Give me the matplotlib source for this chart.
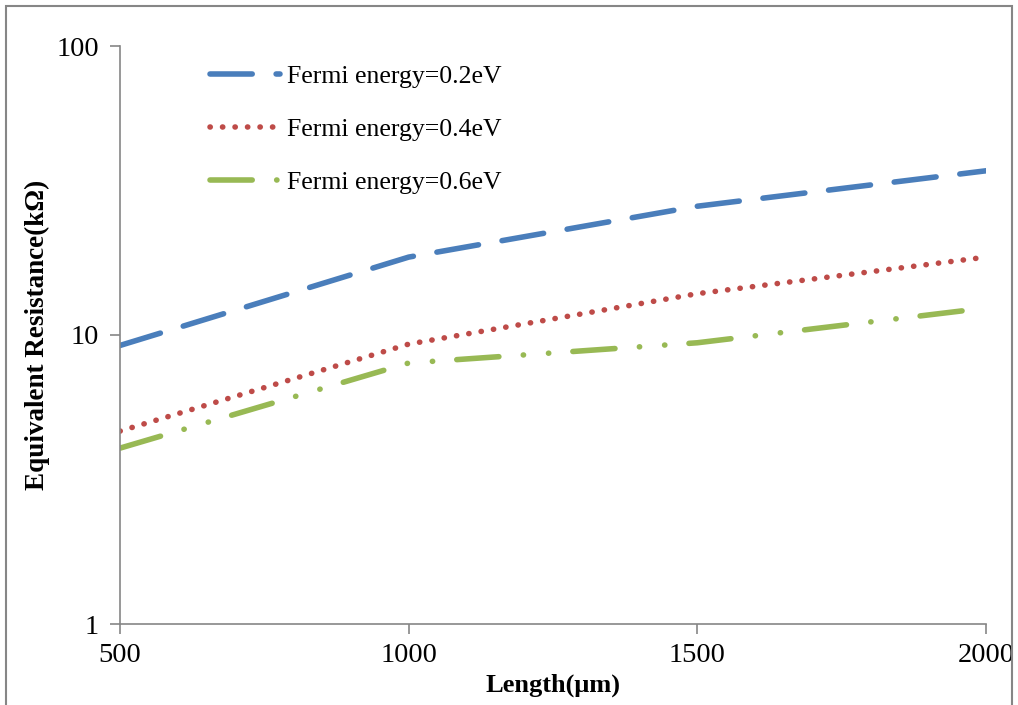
import matplotlib.pyplot as plt
from matplotlib.patches import Rectangle

length = [500, 1000, 1500, 2000]
r_02 = [9.2, 18.6, 27.9, 37.0]
r_04 = [4.65, 9.3, 13.9, 18.6]
r_06 = [4.06, 8.0, 9.4, 12.4]
labels = ["Fermi energy=0.2eV", "Fermi energy=0.4eV", "Fermi energy=0.6eV"]

plt.rcParams['font.family'] = ['Liberation Serif', 'DejaVu Serif']

fig = plt.figure(figsize=(10.18, 7.05), dpi=100)
ax = fig.add_axes([120/1018, 1-624/705, 866/1018, 578/705])

lw = 4
ax.plot(length, r_02, color='#4A7EBB', lw=lw, dash_capstyle='round',
        dashes=(7.6, 4.3), label=labels[0])
ax.plot(length, r_04, color='#BE4B48', lw=lw, dash_capstyle='round',
        dashes=(0.05, 2.2), label=labels[1])
ax.plot(length, r_06, color='#98B954', lw=lw, dash_capstyle='round',
        dashes=(7.6, 4.4, 0.05, 4.5, 0.05, 4.35), label=labels[2])

ax.set_yscale('log')
ax.set_ylim(1, 100)
ax.set_xlim(500, 2000)
ax.set_xticks([500, 1000, 1500, 2000])
ax.set_yticks([1, 10, 100])
ax.set_yticklabels(['1', '10', '100'])
ax.minorticks_off()

for s in ['top', 'right']:
    ax.spines[s].set_visible(False)
for s in ['left', 'bottom']:
    ax.spines[s].set_color('#868686')
    ax.spines[s].set_linewidth(1.2)
ax.tick_params(colors='#868686', labelcolor='black', labelsize=20.5,
               length=7, width=1.2)
ax.tick_params(axis='x', pad=7)
ax.tick_params(axis='y', pad=8)

ax.set_xlabel('Length(\u03bcm)', fontsize=19, fontweight='bold', labelpad=4)
ax.set_ylabel('Equivalent Resistance(k\u03a9)', fontsize=19.5, fontweight='bold')
ax.yaxis.set_label_coords(-0.081, 0.5)

leg = ax.legend(loc='upper left', bbox_to_anchor=(0.077, 1.007), frameon=False,
                fontsize=18.5, handlelength=2.75, handletextpad=0.25,
                labelspacing=1.17)

fig.patches.append(Rectangle((6/1018, -0.01), 1006/1018, 1-6/705+0.01,
                             transform=fig.transFigure, fill=False,
                             edgecolor='#868686', lw=1.5))

fig.savefig('out.png', dpi=100)
